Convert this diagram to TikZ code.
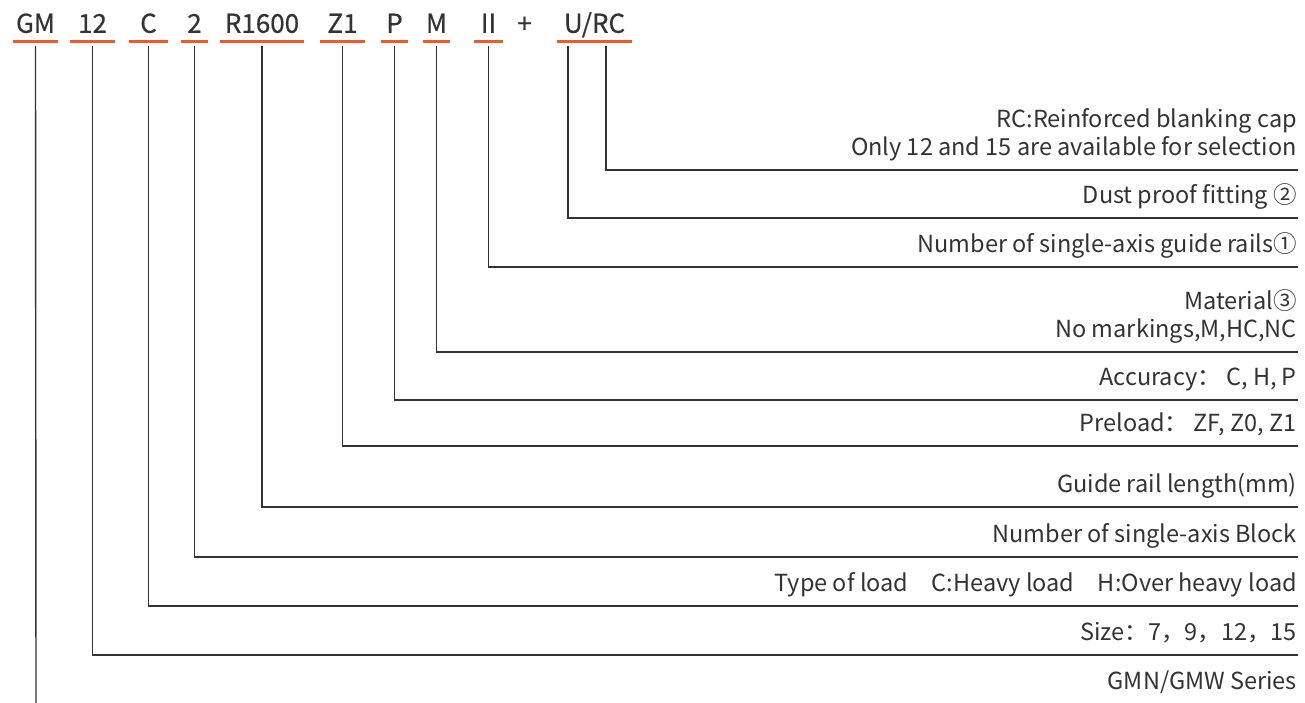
\documentclass[tikz,border=0pt]{standalone}
\usepackage{fontspec}
\setmainfont{Noto Sans CJK SC}
\newfontfamily\codefont[FakeBold=0.5]{Noto Sans CJK SC}
\usetikzlibrary{calc}
\definecolor{inkgray}{RGB}{51,51,51}
\definecolor{tagorange}{RGB}{240,90,36}
\tikzset{
  code/.style={font=\codefont\fontsize{26}{30}\selectfont, text=inkgray, anchor=south, inner xsep=0pt, inner ysep=9pt, text height=19pt, text depth=0pt},
  lbl/.style={font=\fontsize{23.5}{28}\selectfont, text=inkgray, anchor=south east, align=right, inner xsep=1pt, inner ysep=14pt, text depth=0pt},
  lead/.style={draw=inkgray, line width=1.4pt},
  uline/.style={draw=tagorange, line width=3pt}}

\begin{document}
\begin{tikzpicture}[x=1pt, y=-1pt]
  \useasboundingbox (0,0) rectangle (1305,703);
  % code row
  \node[code, minimum width=45pt] (gm) at (35.5,42) {GM};
  \node[code, minimum width=45pt] (n12) at (92.5,42) {12};
  \node[code, minimum width=39pt] (c) at (148.5,42) {C};
  \node[code, minimum width=27pt] (n2) at (194.5,42) {2};
  \node[code, minimum width=84pt] (r) at (262,42) {R1600};
  \node[code, minimum width=45pt] (z) at (342.5,42) {Z1};
  \node[code, minimum width=27pt] (p) at (394.5,42) {P};
  \node[code, minimum width=27pt] (m) at (436.5,42) {M};
  \node[code, minimum width=29pt] (ii) at (488.5,42) {II};
  \node[code] (plus) at (524.5,42) {+};
  \node[code, minimum width=75pt] (urc) at (594.5,42) {U/RC};
  \foreach \n in {gm,n12,c,n2,r,z,p,m,ii,urc}
    \draw[uline] (\n.south west) -- (\n.south east);
  % labels, right column
  \node[lbl] (rc) at (1298,170) {RC:Reinforced blanking cap\\Only 12 and 15 are available for selection};
  \node[lbl] (dust) at (1298,218) {Dust proof fitting ②};
  \node[lbl] (rails) at (1298,267) {Number of single-axis guide rails①};
  \node[lbl] (mat) at (1298,352) {Material③\\No markings,M,HC,NC};
  \node[lbl] (acc) at (1298,400) {Accuracy： C, H, P};
  \node[lbl] (pre) at (1298,446) {Preload：  ZF, Z0, Z1};
  \node[lbl] (len) at (1298,507) {Guide rail length(mm)};
  \node[lbl] (blk) at (1298,557) {Number of single-axis Block};
  \node[lbl] (load) at (1298,606) {Type of load　C:Heavy load　H:Over heavy load};
  \node[lbl] (size) at (1298,655) {Size：7，9，12，15};
  \node[lbl] (ser) at (1298,704) {GMN/GMW Series};
  % leader lines
  \coordinate (gm-end) at (36,703);
  \coordinate (u-tap) at ($(urc.south west)!0.15!(urc.south east)+(0,4)$);
  \coordinate (rc-tap) at ($(urc.south west)!0.65!(urc.south east)+(0,4)$);
  \draw[lead] (rc-tap) |- (rc.south east);
  \draw[lead] (u-tap) |- (dust.south east);
  \draw[lead] ([yshift=-4pt]ii.south) |- (rails.south east);
  \draw[lead] ([yshift=-4pt]m.south) |- (mat.south east);
  \draw[lead] ([yshift=-4pt]p.south) |- (acc.south east);
  \draw[lead] ([yshift=-4pt]z.south) |- (pre.south east);
  \draw[lead] ([yshift=-4pt]r.south) |- (len.south east);
  \draw[lead] ([yshift=-4pt]n2.south) |- (blk.south east);
  \draw[lead] ([yshift=-4pt]c.south) |- (load.south east);
  \draw[lead] ([yshift=-4pt]n12.south) |- (size.south east);
  \draw[lead] ([yshift=-4pt]gm.south) -- (gm-end);
\end{tikzpicture}
\end{document}
